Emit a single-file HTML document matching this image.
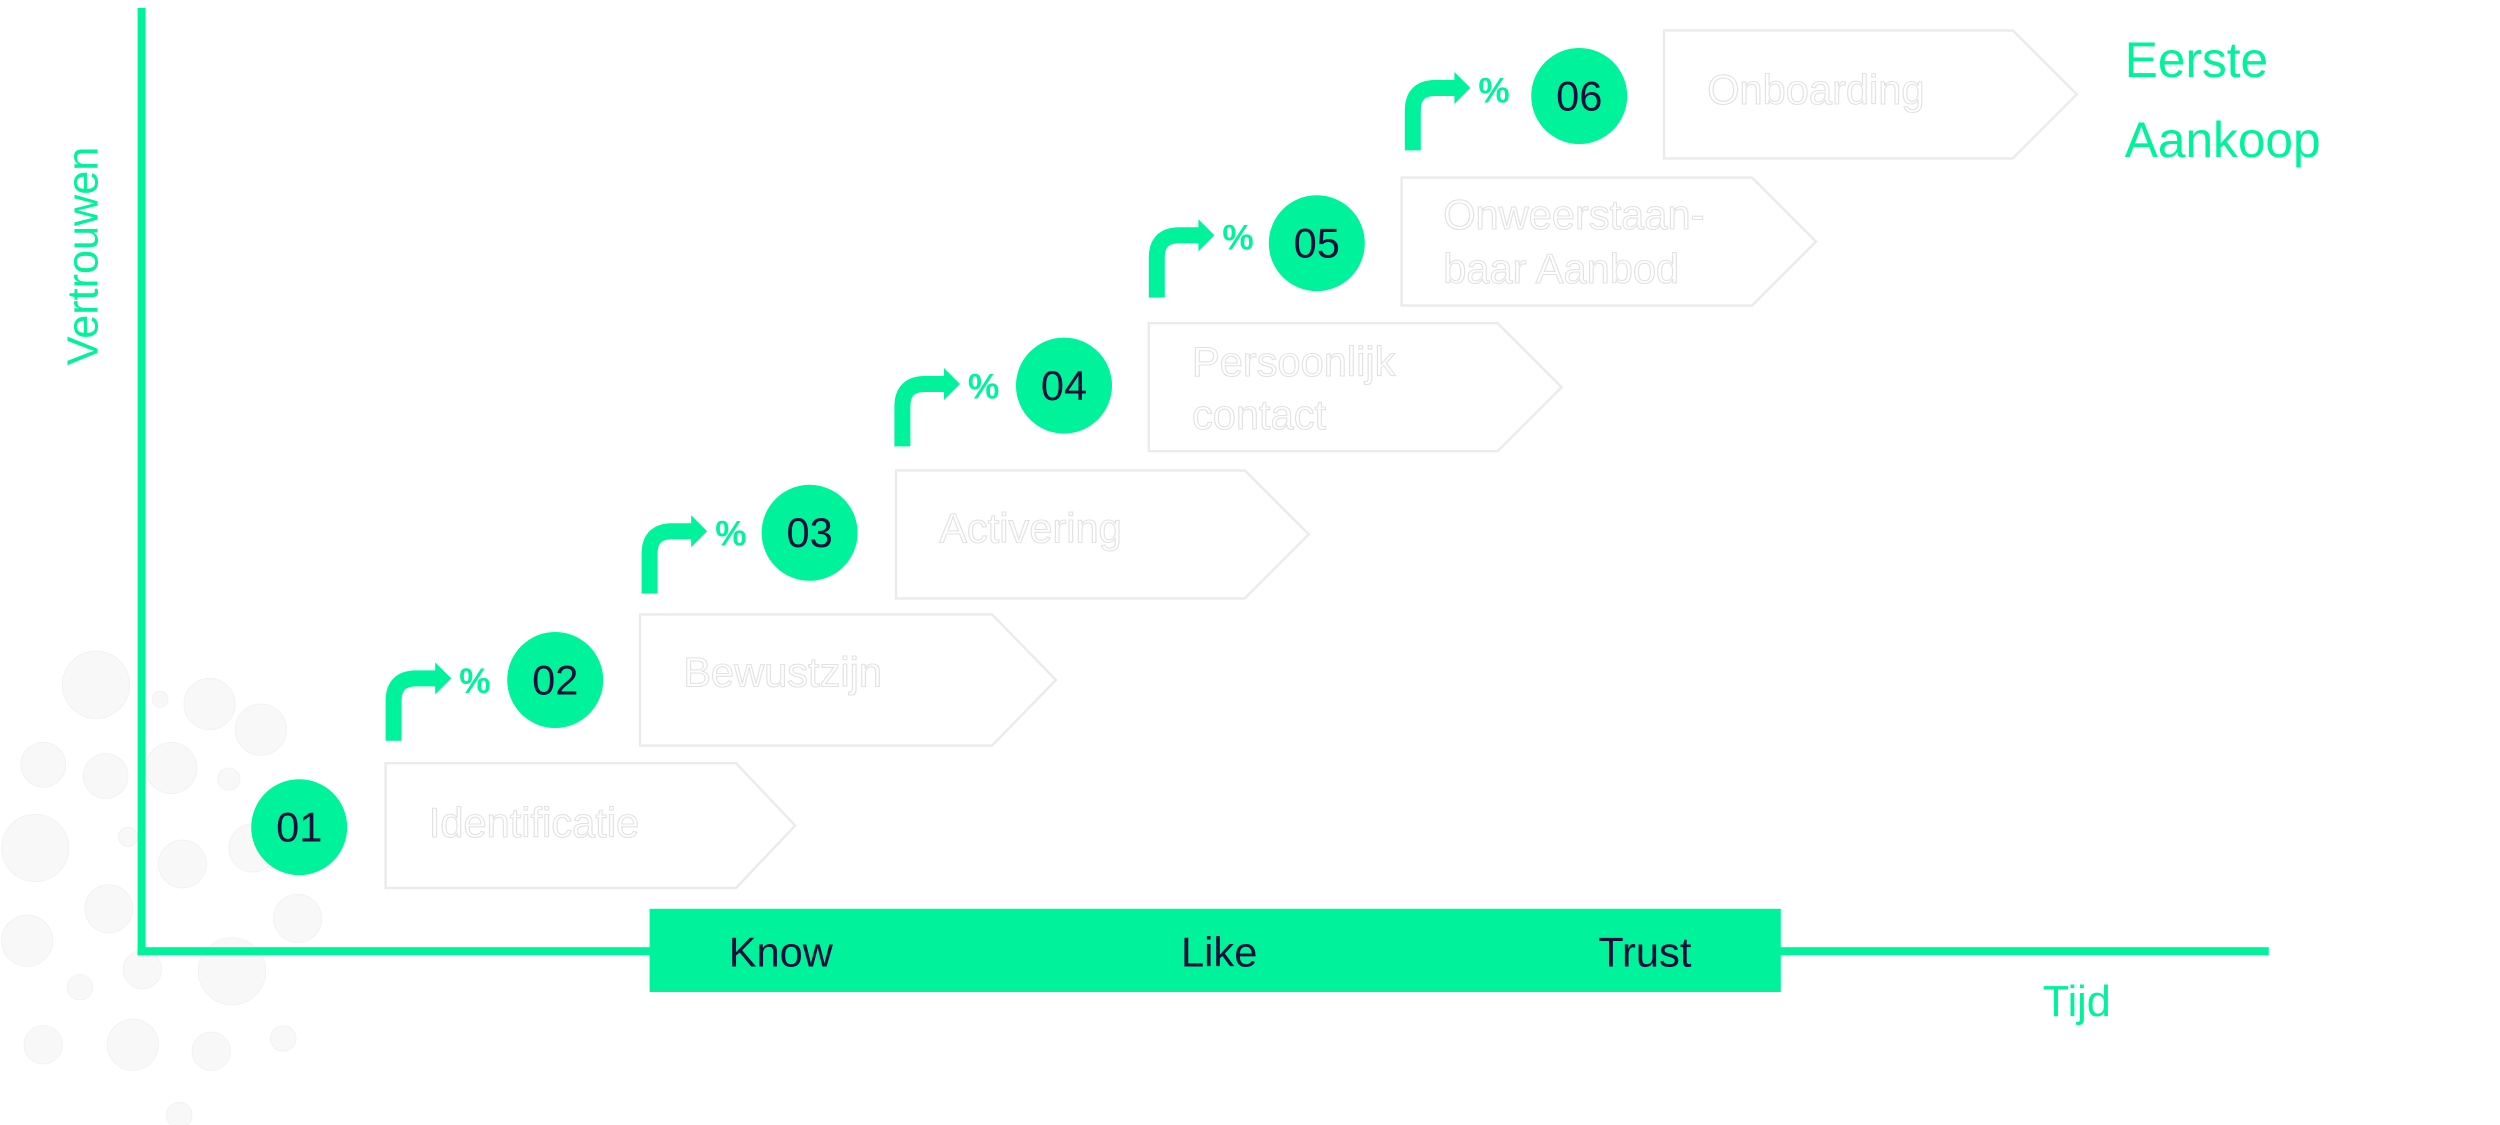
<!DOCTYPE html>
<html><head><meta charset="utf-8"><style>
html,body{margin:0;padding:0;background:#fff;}
svg{display:block;}
text{font-family:"Liberation Sans",sans-serif;}
.lbl{fill:#fff;stroke:#e2e2e2;stroke-width:0.7;font-size:26px;}
.box{fill:#fff;stroke:#ebebeb;stroke-width:1.5;}
.num{fill:#1a0f3c;font-size:26px;text-anchor:middle;}
.g{fill:#00F29A;}
</style></head><body>
<svg width="2500" height="1125" viewBox="0 0 1562.5 703.125" xmlns="http://www.w3.org/2000/svg">
<g fill="#f8f8f8" stroke="#f0f0f0" stroke-width="0.5">
<circle cx="60" cy="428" r="21"/><circle cx="100" cy="437" r="5"/><circle cx="131" cy="440" r="16"/><circle cx="163" cy="456" r="16"/>
<circle cx="27" cy="478" r="14"/><circle cx="66" cy="485" r="14"/><circle cx="107" cy="480" r="16"/><circle cx="143" cy="487" r="7"/>
<circle cx="22" cy="530" r="21"/><circle cx="80" cy="523" r="6"/><circle cx="114" cy="540" r="15"/><circle cx="158" cy="530" r="15"/>
<circle cx="68" cy="568" r="15"/><circle cx="17" cy="588" r="16"/><circle cx="186" cy="574" r="15"/>
<circle cx="89" cy="606" r="12"/><circle cx="145" cy="607" r="21"/><circle cx="50" cy="617" r="8"/>
<circle cx="27" cy="653" r="12"/><circle cx="83" cy="653" r="16"/><circle cx="132" cy="657" r="12"/><circle cx="177" cy="649" r="8"/><circle cx="112" cy="697" r="8"/>
</g>
<rect class="g" x="86" y="5" width="5" height="592"/>
<rect class="g" x="86" y="592" width="1332" height="5"/>
<text class="g" font-size="27" transform="translate(61,160) rotate(-90)" text-anchor="middle">Vertrouwen</text>
<text class="g" font-size="27" x="1298" y="635" text-anchor="middle">Tijd</text>
<rect class="g" x="406" y="568" width="707" height="52"/>
<text x="488" y="604" font-size="26" fill="#1a0f3c" text-anchor="middle">Know</text>
<text x="762" y="604" font-size="26" fill="#1a0f3c" text-anchor="middle">Like</text>
<text x="1028" y="604" font-size="26" fill="#1a0f3c" text-anchor="middle">Trust</text>
<text class="g" font-size="31" x="1328" y="48">Eerste</text>
<text class="g" font-size="31" x="1328" y="98">Aankoop</text>
<g>
<path class="box" d="M241 477 H460 L497 516 L460 555 H241 Z"/>
<path class="box" d="M400 384 H620 L660 425 L620 466 H400 Z"/>
<path class="box" d="M560 294 H778 L818 334 L778 374 H560 Z"/>
<path class="box" d="M718 202 H936 L976 242 L936 282 H718 Z"/>
<path class="box" d="M876 111 H1095 L1135 151 L1095 191 H876 Z"/>
<path class="box" d="M1040 19 H1258 L1298 59 L1258 99 H1040 Z"/>
</g>
<text class="lbl" x="268" y="523">Identificatie</text>
<text class="lbl" x="427" y="429">Bewustzijn</text>
<text class="lbl" x="587" y="339">Activering</text>
<text class="lbl" x="745" y="235">Persoonlijk</text>
<text class="lbl" x="745" y="268">contact</text>
<text class="lbl" x="902" y="143">Onweerstaan-</text>
<text class="lbl" x="902" y="177">baar Aanbod</text>
<text class="lbl" x="1067" y="65">Onboarding</text>
<g class="g">
<circle cx="187" cy="517" r="30"/><circle cx="347" cy="425" r="30"/><circle cx="506" cy="333" r="30"/>
<circle cx="665" cy="241" r="30"/><circle cx="823" cy="152" r="30"/><circle cx="987" cy="60" r="30"/>
</g>
<text class="num" x="187" y="526">01</text><text class="num" x="347" y="434">02</text><text class="num" x="506" y="342">03</text>
<text class="num" x="665" y="250">04</text><text class="num" x="823" y="161">05</text><text class="num" x="987" y="69">06</text>
<defs>
<g id="arr">
<path d="M0 0 V-25 Q0 -39 14 -39 H27" fill="none" stroke="#00F29A" stroke-width="10"/>
<path d="M26 -49 L36 -39 L26 -29 Z" fill="#00F29A"/>
<text x="41" y="-30" font-size="22" font-weight="bold" fill="#00F29A">%</text>
</g>
</defs>
<use href="#arr" x="246" y="463"/>
<use href="#arr" x="406" y="371"/>
<use href="#arr" x="564" y="279"/>
<use href="#arr" x="723" y="186"/>
<use href="#arr" x="883" y="94"/>
</svg>
</body></html>
